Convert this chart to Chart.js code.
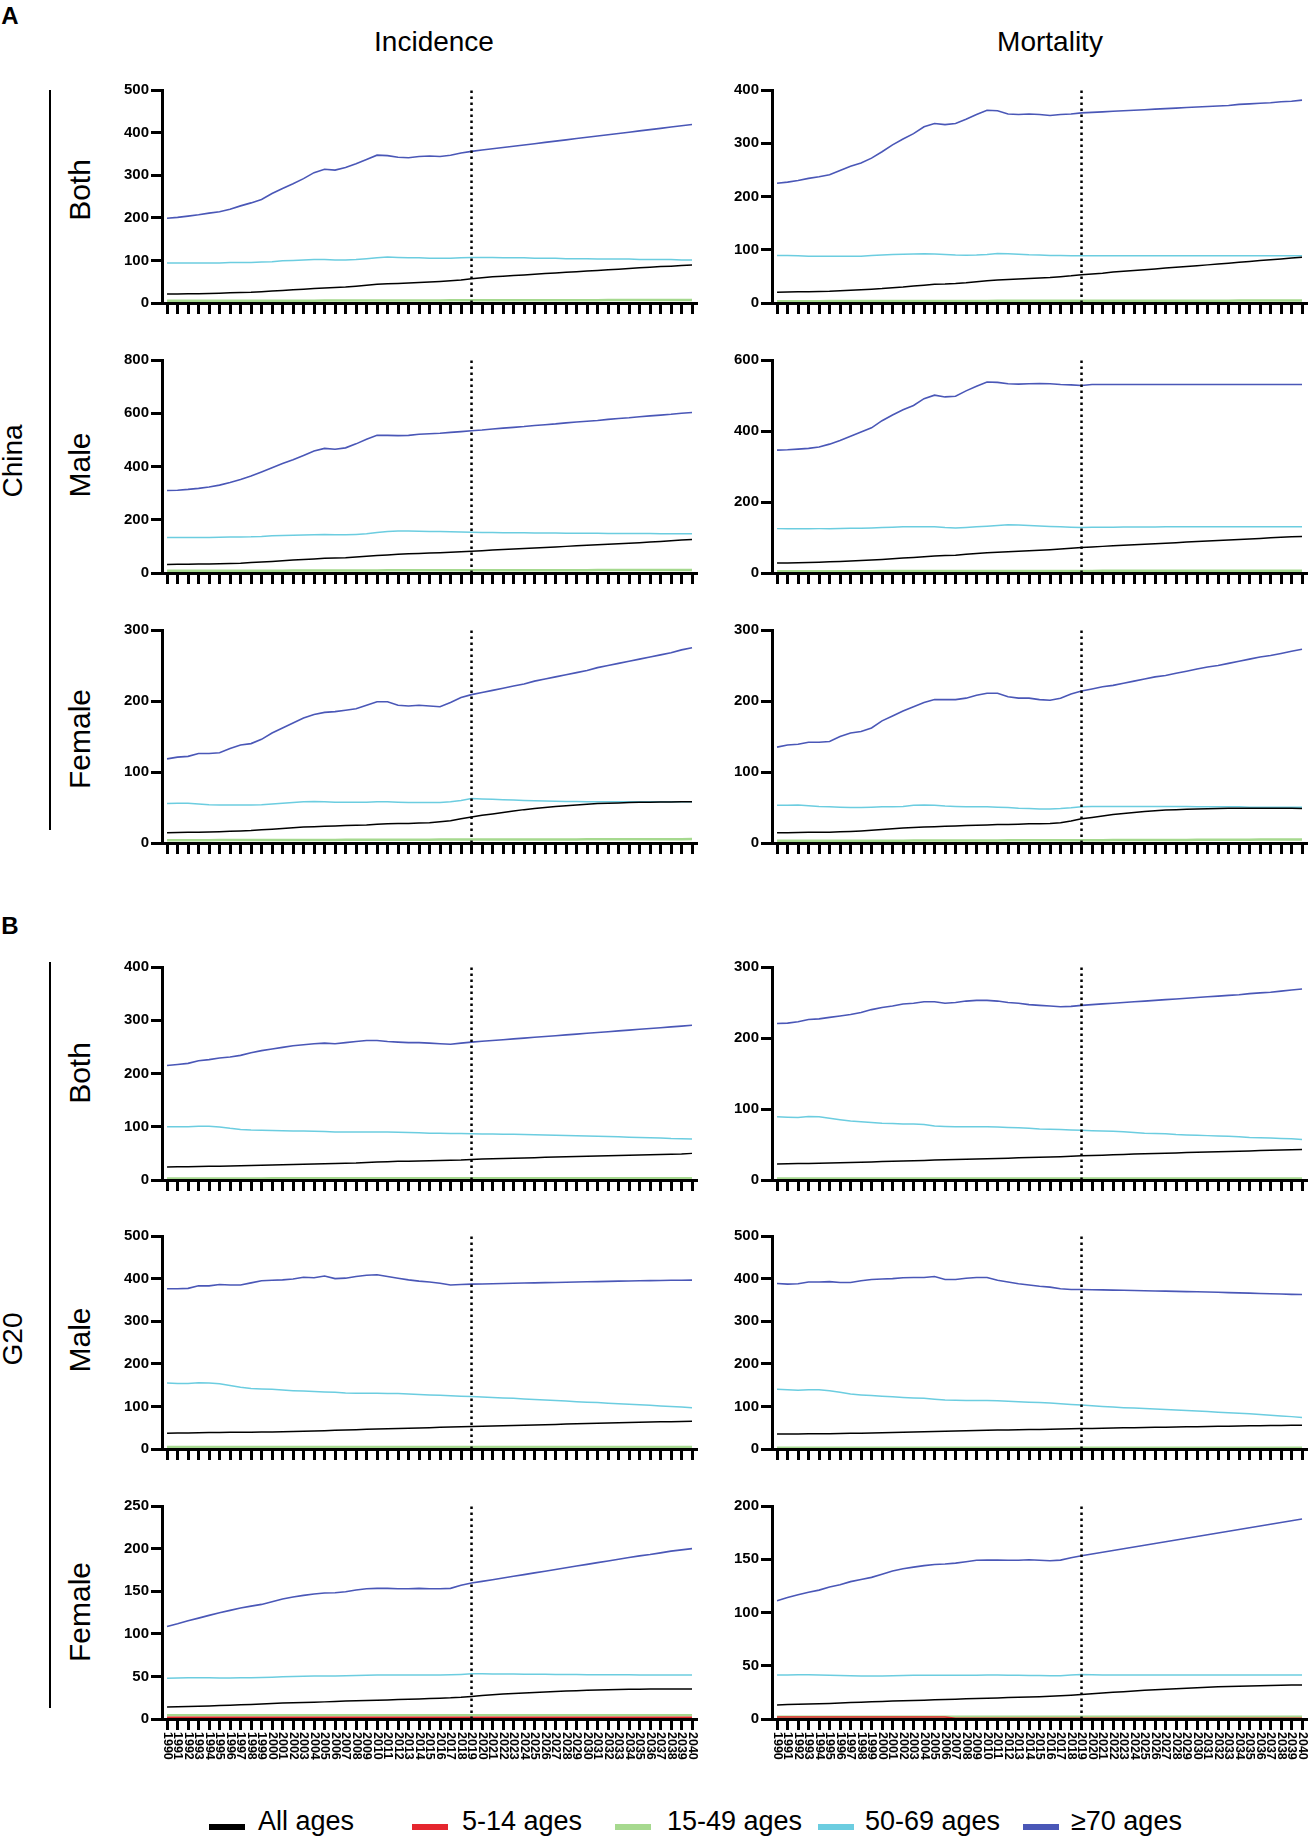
<!DOCTYPE html>
<html>
<head>
<meta charset="utf-8">
<script src="https://cdn.jsdelivr.net/npm/chart.js@4.4.1/dist/chart.umd.min.js"></script>
<style>
  body { margin: 0; background: #fff; }
  #fig { position: relative; width: 1310px; height: 1837px; overflow: hidden;
         font-family: 'Liberation Sans', Arial, sans-serif; color: #000; }
  .lbl { position: absolute; transform: translate(-50%, -50%); white-space: nowrap; line-height: 1; }
  .rot { transform: translate(-50%, -50%) rotate(-90deg); }
  .bold { font-weight: bold; }
  .vline { position: absolute; width: 2px; background: #000; }
  canvas { position: absolute; }
  .key { position: absolute; top: 1824px; width: 36px; height: 6px; }
  .ktxt { position: absolute; top: 1821px; transform: translateY(-50%); font-size: 27px; line-height: 1; white-space: nowrap; }
</style>
</head>
<body>
<div id="fig">
  <div class="lbl bold" style="left:10px;top:16px;font-size:24px">A</div>
  <div class="lbl" style="left:434px;top:42px;font-size:28px">Incidence</div>
  <div class="lbl" style="left:1050px;top:42px;font-size:28px">Mortality</div>
  <div class="vline" style="left:49px;top:90px;height:740px"></div>
  <div class="lbl rot" style="left:13px;top:461px;font-size:28px">China</div>
  <div class="lbl rot" style="left:80px;top:190px;font-size:30px">Both</div>
  <div class="lbl rot" style="left:80px;top:465px;font-size:30px">Male</div>
  <div class="lbl rot" style="left:80px;top:739px;font-size:30px">Female</div>

  <div class="lbl bold" style="left:10px;top:926px;font-size:24px">B</div>
  <div class="vline" style="left:49px;top:962px;height:746px"></div>
  <div class="lbl rot" style="left:13px;top:1339px;font-size:28px">G20</div>
  <div class="lbl rot" style="left:80px;top:1073px;font-size:30px">Both</div>
  <div class="lbl rot" style="left:80px;top:1340px;font-size:30px">Male</div>
  <div class="lbl rot" style="left:80px;top:1612px;font-size:30px">Female</div>

  <canvas id="p1"></canvas><canvas id="p2"></canvas>
  <canvas id="p3"></canvas><canvas id="p4"></canvas>
  <canvas id="p5"></canvas><canvas id="p6"></canvas>
  <canvas id="p7"></canvas><canvas id="p8"></canvas>
  <canvas id="p9"></canvas><canvas id="p10"></canvas>
  <canvas id="p11"></canvas><canvas id="p12"></canvas>

  <div id="legend"></div>
</div>

<script>
// 年份（x 轴刻度）
const years = [1990,1991,1992,1993,1994,1995,1996,1997,1998,1999,
  2000,2001,2002,2003,2004,2005,2006,2007,2008,2009,
  2010,2011,2012,2013,2014,2015,2016,2017,2018,2019,
  2020,2021,2022,2023,2024,2025,2026,2027,2028,2029,
  2030,2031,2032,2033,2034,2035,2036,2037,2038,2039,2040];
const projectionYear = 2019;

const seriesNames = ['All ages', '5-14 ages', '15-49 ages', '50-69 ages', '≥70 ages'];

// ---- China, incidence, both
const cnBothIncAll = [21,21,21.5,22,22.5,23,24,24.5,25,26.5, 28,29.5,31,32.5,34,35.5,36.5,37.5,39.5,41.5, 44,45,46,47,48,49.5,50.5,52,54,57, 59.5,61.5,63,64.5,66,67.5,69,70.5,72,73.5, 75,76.5,78,79.5,81,82.5,84,85.5,86.5,88,89];
const cnBothInc5to14 = [0.3,0.3,0.3,0.3,0.3,0.3,0.3,0.3,0.3,0.3, 0.3,0.3,0.3,0.3,0.3,0.3,0.3,0.3,0.3,0.3, 0.3,0.3,0.3,0.3,0.3,0.3,0.3,0.3,0.3,0.3, 0.3,0.3,0.3,0.3,0.3,0.3,0.3,0.3,0.3,0.3, 0.3,0.3,0.3,0.3,0.3,0.3,0.3,0.3,0.3,0.3,0.3];
const cnBothInc15to49 = [5,5,5,5,5,5.1,5.1,5.2,5.2,5.3, 5.3,5.4,5.4,5.5,5.5,5.6,5.6,5.7,5.7,5.8, 5.8,5.9,5.9,6,6,6.1,6.1,6.2,6.2,6.3, 6.3,6.4,6.4,6.5,6.5,6.5,6.6,6.6,6.6,6.7, 6.7,6.7,6.8,6.8,6.8,6.9,6.9,6.9,7,7,7];
const cnBothInc50to69 = [94,94,94,94,94,94,95,95,95,96, 97,99,100,101,102,102,101,101,102,104, 106,108,107,106,106,105,105,105,106,107, 107,107,106,106,106,105,105,105,104,104, 104,103,103,103,103,102,102,102,102,101,101];
const cnBothInc70plus = [199,201,204,207,211,214,220,228,235,243, 257,269,280,292,306,314,312,318,327,337, 347,346,342,341,344,345,344,347,352,356, 359,362,365,368,371,374,377,380,383,386, 389,392,395,398,401,404,407,410,413,416,419];

// ---- China, mortality, both
const cnBothMortAll = [20,20.5,21,21,21.5,22,23,24,25,26, 27,28.5,30,32,33.5,35,35.5,36.5,38,40, 42,43,44,45,46,47,48,49.5,51,53, 54.5,56,58,59.5,61,62.5,64,65.5,67,68.5, 70,71.6,73.2,74.8,76.4,78,79.6,81.2,82.8,84.4,86];
const cnBothMort5to14 = [0.3,0.3,0.3,0.3,0.3,0.3,0.3,0.3,0.3,0.3, 0.3,0.3,0.3,0.3,0.3,0.3,0.3,0.3,0.3,0.3, 0.3,0.3,0.3,0.3,0.3,0.3,0.3,0.3,0.3,0.3, 0.3,0.3,0.3,0.3,0.3,0.3,0.3,0.3,0.3,0.3, 0.3,0.3,0.3,0.3,0.3,0.3,0.3,0.3,0.3,0.3,0.3];
const cnBothMort15to49 = [3.5,3.5,3.5,3.5,3.5,3.6,3.6,3.6,3.6,3.7, 3.7,3.7,3.7,3.8,3.8,3.8,3.8,3.9,3.9,3.9, 3.9,4,4,4,4,4,4.1,4.1,4.1,4.1, 4.2,4.2,4.2,4.2,4.3,4.3,4.3,4.3,4.3,4.4, 4.4,4.4,4.4,4.4,4.5,4.5,4.5,4.5,4.5,4.5,4.5];
const cnBothMort50to69 = [89,89,88.5,88,88,88,88,88,88,89, 90,91,91.5,92,92.5,92,91,90,89.5,90, 91,93,92.5,91.5,90.5,90,89,89,88.5,88.5, 88.5,88.5,88.5,88.5,88.5,88.5,88.5,88.5,88.5,88.5, 88.5,88.5,88.5,88.5,88.5,88.5,88.5,88.5,88.5,88.5,88.5];
const cnBothMort70plus = [225,227,230,234,237,241,249,257,263,272, 284,297,308,318,331,337,335,337,345,354, 362,361,355,354,355,354,352,354,355,357, 358,359,360,361,362,363,364,365,366,367, 368,369,370,371,373,374,375,376,378,379,381];

// ---- China, incidence, male
const cnMaleIncAll = [32,32.5,33,33.5,34,35,36,37,39,41, 43.5,46,48.5,51,53,55,56,57.5,60,63, 66,68,70,72,73.5,75,76.5,78,80,82, 84,86,88,90,92,94,96,98,100,102, 104,106,108,110,112,114,116,118.5,121,123.5,126];
const cnMaleInc5to14 = [0.3,0.3,0.3,0.3,0.3,0.3,0.3,0.3,0.3,0.3, 0.3,0.3,0.3,0.3,0.3,0.3,0.3,0.3,0.3,0.3, 0.3,0.3,0.3,0.3,0.3,0.3,0.3,0.3,0.3,0.3, 0.3,0.3,0.3,0.3,0.3,0.3,0.3,0.3,0.3,0.3, 0.3,0.3,0.3,0.3,0.3,0.3,0.3,0.3,0.3,0.3,0.3];
const cnMaleInc15to49 = [8,8,8,8.1,8.2,8.3,8.4,8.5,8.6,8.7, 8.8,8.9,9,9.1,9.2,9.3,9.4,9.5,9.6,9.7, 9.8,9.9,10,10,10.1,10.1,10.2,10.2,10.3,10.3, 10.4,10.4,10.5,10.5,10.5,10.6,10.6,10.6,10.7,10.7, 10.7,10.8,10.8,10.8,10.9,10.9,10.9,11,11,11,11];
const cnMaleInc50to69 = [133,133,133,133,133.5,134,135,135.5,136,137.5, 140,141,142,143,144,145,144,143.5,145,147, 152,156,158,158,157,156,155.5,155,154,153, 152.5,152,151.5,151,151,150.5,150,150,149.5,149.5, 149,149,148.5,148.5,148,148,148,147.5,147.5,147,147];
const cnMaleInc70plus = [310,311,314,318,323,330,340,351,364,379, 395,411,425,441,458,468,465,470,485,502, 517,517,516,517,521,523,525,528,531,534, 537,541,544,547,550,554,557,560,564,567, 570,573,577,580,583,587,590,593,596,600,603];

// ---- China, mortality, male
const cnMaleMortAll = [28,28.5,29,29.5,30.5,31.5,32.5,33.5,35,36.5, 38,40,42,44,46,48,49,50,52.5,55, 57,58.5,60,61.5,63,64,65.5,67.5,70,72, 73.5,75,76.5,78,79.5,81,82.5,84,85.5,87, 88.5,90,91.5,93,94.5,96,97.5,99,100.5,102,103];
const cnMaleMort5to14 = [0.3,0.3,0.3,0.3,0.3,0.3,0.3,0.3,0.3,0.3, 0.3,0.3,0.3,0.3,0.3,0.3,0.3,0.3,0.3,0.3, 0.3,0.3,0.3,0.3,0.3,0.3,0.3,0.3,0.3,0.3, 0.3,0.3,0.3,0.3,0.3,0.3,0.3,0.3,0.3,0.3, 0.3,0.3,0.3,0.3,0.3,0.3,0.3,0.3,0.3,0.3,0.3];
const cnMaleMort15to49 = [5,5,5,5,5.1,5.1,5.1,5.2,5.2,5.2, 5.3,5.3,5.3,5.4,5.4,5.4,5.5,5.5,5.5,5.6, 5.6,5.6,5.7,5.7,5.7,5.8,5.8,5.8,5.9,5.9, 5.9,6,6,6,6,6.1,6.1,6.1,6.1,6.2, 6.2,6.2,6.2,6.3,6.3,6.3,6.3,6.4,6.4,6.4,6.5];
const cnMaleMort50to69 = [125,124.5,124.5,124.5,125,125,125.5,126,126,127, 128,129,130,130,130.5,130,128,127,128.5,130, 132,134,136,135,134,132.5,131,130,129,128, 129,129,129,129.5,129.5,129.5,129.5,130,130,130, 130,130,130,130.5,130.5,130.5,130.5,130.5,130.5,130.5,130.5];
const cnMaleMort70plus = [346,347,349,351,355,363,373,385,397,409, 429,445,460,472,491,501,496,498,513,526, 538,537,533,532,533,534,533,531,530,528, 531,531,531,531,531,531,531,531,531,531, 531,531,531,531,531,531,531,531,531,531,531];

// ---- China, incidence, female
const cnFemaleIncAll = [14.5,14.7,15,15.2,15.5,16,16.5,17,17.5,18.5, 19.5,20.5,21.5,22.5,23,23.5,24,24.5,25,25.5, 26.5,27,27.5,27.5,28,28.5,30,31.5,34,36.5, 39,41,43,45,47,48.5,50,51.5,52.5,53.5, 54.5,55.5,56,56.5,57,57.3,57.5,57.7,57.8,58,58];
const cnFemaleInc5to14 = [0.3,0.3,0.3,0.3,0.3,0.3,0.3,0.3,0.3,0.3, 0.3,0.3,0.3,0.3,0.3,0.3,0.3,0.3,0.3,0.3, 0.3,0.3,0.3,0.3,0.3,0.3,0.3,0.3,0.3,0.3, 0.3,0.3,0.3,0.3,0.3,0.3,0.3,0.3,0.3,0.3, 0.3,0.3,0.3,0.3,0.3,0.3,0.3,0.3,0.3,0.3,0.3];
const cnFemaleInc15to49 = [4,4,4,4,4,4.1,4.1,4.1,4.2,4.2, 4.2,4.3,4.3,4.3,4.4,4.4,4.4,4.5,4.5,4.5, 4.6,4.6,4.6,4.7,4.7,4.7,4.8,4.8,4.8,4.9, 4.9,4.9,5,5,5,5,5.1,5.1,5.1,5.1, 5.2,5.2,5.2,5.2,5.3,5.3,5.3,5.3,5.4,5.4,5.5];
const cnFemaleInc50to69 = [55.5,56,56,55,54,53.5,53.5,53.5,53.5,54, 55,56,57,58,58.5,58,57.5,57.5,57.5,57.5, 58,58,57.5,57,57,57,57,58,60,62.5, 62,61.5,61,60.5,60,59.5,59,58.7,58.5,58.3, 58,58,58,58,58,58,58,58,58,58,58];
const cnFemaleInc70plus = [118.5,121,122,126,126,127,133,138,140,146, 155,162,169,176,181,184,185,187,189,194, 199,199,194,193,194,193,192,198,205,209, 212,215,218,221,224,228,231,234,237,240, 243,247,250,253,256,259,262,265,268,272,275];

// ---- China, mortality, female
const cnFemaleMortAll = [14.5,14.5,14.7,15,15,15.3,15.7,16.2,17,18, 19,20,21,22,22.5,23,23.5,24,24.5,25, 25.5,26,26.2,26.5,27,27,27.5,28.5,31,34, 36,38,40,41.5,43,44.5,45.5,46.5,47,47.5, 48,48.3,48.6,48.8,49,49,49,49,49,49,48.5];
const cnFemaleMort5to14 = [0.3,0.3,0.3,0.3,0.3,0.3,0.3,0.3,0.3,0.3, 0.3,0.3,0.3,0.3,0.3,0.3,0.3,0.3,0.3,0.3, 0.3,0.3,0.3,0.3,0.3,0.3,0.3,0.3,0.3,0.3, 0.3,0.3,0.3,0.3,0.3,0.3,0.3,0.3,0.3,0.3, 0.3,0.3,0.3,0.3,0.3,0.3,0.3,0.3,0.3,0.3,0.3];
const cnFemaleMort15to49 = [3,3,3,3,3.1,3.1,3.1,3.2,3.2,3.2, 3.3,3.3,3.3,3.4,3.4,3.4,3.5,3.5,3.5,3.6, 3.6,3.6,3.7,3.7,3.7,3.8,3.8,3.8,3.9,3.9, 4,4,4.1,4.1,4.2,4.2,4.3,4.3,4.4,4.4, 4.5,4.5,4.6,4.6,4.7,4.7,4.8,4.8,4.9,4.9,5];
const cnFemaleMort50to69 = [53,53,53.5,52.5,51.5,51,50.5,50,50,50.5, 51,51,51.5,53,53.5,53,52,51.5,51,51, 51,50.5,50,49,48.5,48,48,48.5,49.5,51, 51.5,51.5,51.5,51.5,51.5,51.5,51.5,51.5,51.5,51.5, 51,51,51,51,51,50.5,50.5,50.5,50.5,50.5,50.5];
const cnFemaleMort70plus = [135,138,139,142,142,143,150,155,157,162, 172,179,186,192,198,202,202,202,204,208, 211,211,206,204,204,202,201,204,210,214, 217,220,222,225,228,231,234,236,239,242, 245,248,250,253,256,259,262,264,267,270,273];

// ---- G20, incidence, both
const g20BothIncAll = [24.5,24.8,25,25.3,25.6,26,26.3,26.6,27,27.5, 28,28.5,29,29.5,30,30.5,31,31.5,32,33, 34,34.5,35,35.3,35.6,36,36.5,37,37.5,38.5, 39.5,40,40.5,41,41.5,42,42.5,43,43.5,44, 44.5,45,45.5,46,46.5,47,47.5,48,48.5,49,50];
const g20BothInc5to14 = [0.4,0.4,0.4,0.4,0.4,0.4,0.4,0.4,0.4,0.4, 0.4,0.4,0.4,0.4,0.4,0.4,0.4,0.4,0.4,0.4, 0.4,0.4,0.4,0.4,0.4,0.4,0.4,0.4,0.4,0.4, 0.4,0.4,0.4,0.4,0.4,0.4,0.4,0.4,0.4,0.4, 0.4,0.4,0.4,0.4,0.4,0.4,0.4,0.4,0.4,0.4,0.4];
const g20BothInc15to49 = [3,3,3,3,3,3,3,3,3,3, 3.1,3.1,3.1,3.1,3.1,3.1,3.1,3.1,3.1,3.1, 3.1,3.1,3.1,3.1,3.1,3.1,3.1,3.1,3.1,3.1, 3.2,3.2,3.2,3.2,3.2,3.2,3.2,3.2,3.2,3.2, 3.2,3.2,3.2,3.2,3.2,3.2,3.2,3.2,3.2,3.2,3.2];
const g20BothInc50to69 = [100,100,100,101,101,99.5,97,95,94,93.5, 93,92.5,92,92,91.5,91,90,90,90,90, 90,90,89.5,89,88.5,88,88,87.5,87.5,87, 86.5,86.5,86,86,85.5,85,84.5,84,83.5,83, 82.5,82,81.5,81,80.5,80,79.5,79,78,77.5,77];
const g20BothInc70plus = [215,217,219,224,226,229,231,234,239,243, 246,249,252,254,256,257,256,258,260,262, 262,260,259,258,258,257,256,255,257,259, 260.5,262,263.5,265,266.5,268,269.5,271,272.5,274, 275.5,277,278.5,280,281.5,283,284.5,286,287.5,289,290.5];

// ---- G20, mortality, both
const g20BothMortAll = [22.7,23,23.2,23.4,23.6,24,24.3,24.7,25,25.5, 26,26.4,26.8,27.2,27.6,28,28.4,28.8,29.2,29.6, 30,30.4,30.8,31.2,31.6,32,32.4,32.8,33.3,34, 34.5,35,35.5,36,36.5,37,37.4,37.8,38.2,38.6, 39,39.4,39.8,40.2,40.6,41,41.4,41.8,42.2,42.6,43];
const g20BothMort5to14 = [0.4,0.4,0.4,0.4,0.4,0.4,0.4,0.4,0.4,0.4, 0.4,0.4,0.4,0.4,0.4,0.4,0.4,0.4,0.4,0.4, 0.4,0.4,0.4,0.4,0.4,0.4,0.4,0.4,0.4,0.4, 0.4,0.4,0.4,0.4,0.4,0.4,0.4,0.4,0.4,0.4, 0.4,0.4,0.4,0.4,0.4,0.4,0.4,0.4,0.4,0.4,0.4];
const g20BothMort15to49 = [2.2,2.2,2.2,2.2,2.2,2.2,2.2,2.2,2.2,2.2, 2.2,2.2,2.2,2.2,2.2,2.2,2.2,2.2,2.2,2.2, 2.2,2.2,2.2,2.2,2.2,2.2,2.2,2.2,2.2,2.2, 2.2,2.2,2.2,2.2,2.2,2.2,2.2,2.2,2.2,2.2, 2.2,2.2,2.2,2.2,2.2,2.2,2.2,2.2,2.2,2.2,2.2];
const g20BothMort50to69 = [89,88.5,88,89.5,89,87,85,83,82,81, 80,79.5,79,79,78,76,75.5,75,75,75, 75,74.5,74,73.5,73,72,71.5,71,70.5,70, 69.5,69,68.5,68,67,66,65.5,65,64,63.5, 63,62.5,62,61.5,61,60,59.5,59,58.5,58,57];
const g20BothMort70plus = [220.5,221,223,226,227,229,231,233,236,240, 243,245,248,249,251,251,249,250,252,253, 253,252,250,249,247,246,245,244,244.5,246, 247,248,249,250,251,252,253,254,255,256, 257,258,259,260,261,262.5,263.5,264.5,266,267.5,269];

// ---- G20, incidence, male
const g20MaleIncAll = [37,37.4,37.8,38.2,38.6,39,39.2,39.4,39.6,39.8, 40,40.6,41.2,41.8,42.4,43,43.8,44.6,45.4,46.2, 47,47.6,48.2,48.8,49.4,50,50.8,51.6,52.3,53, 53.6,54.2,54.8,55.4,56,56.6,57.2,57.8,58.4,59, 59.6,60.2,60.8,61.4,62,62.6,63.2,63.8,64.2,64.6,65];
const g20MaleInc5to14 = [0.4,0.4,0.4,0.4,0.4,0.4,0.4,0.4,0.4,0.4, 0.4,0.4,0.4,0.4,0.4,0.4,0.4,0.4,0.4,0.4, 0.4,0.4,0.4,0.4,0.4,0.4,0.4,0.4,0.4,0.4, 0.4,0.4,0.4,0.4,0.4,0.4,0.4,0.4,0.4,0.4, 0.4,0.4,0.4,0.4,0.4,0.4,0.4,0.4,0.4,0.4,0.4];
const g20MaleInc15to49 = [4.5,4.5,4.5,4.5,4.5,4.5,4.5,4.5,4.5,4.5, 4.5,4.5,4.5,4.5,4.5,4.5,4.5,4.5,4.5,4.5, 4.5,4.5,4.5,4.5,4.5,4.5,4.5,4.5,4.5,4.5, 4.5,4.5,4.5,4.5,4.5,4.5,4.5,4.5,4.5,4.5, 4.5,4.5,4.5,4.5,4.5,4.5,4.5,4.5,4.5,4.5,4.5];
const g20MaleInc50to69 = [155,154,154,155.5,155,153,149,145,142,141, 140,138.5,137,136,135,134,133,131.5,131,131, 131,130.5,130,129,128,127,126,125,124,123, 122,121,120,119,117.5,116,115,114,112.5,111, 110,109,107.5,106,105,104,102.5,101,100,98.5,97];
const g20MaleInc70plus = [376,376,377,383,383,386,385,385,390,395, 396,397,399,403,402,406,400,401,405,408, 409,405,401,397,394,392,389,385,386,387, 387.5,388,388.5,389,389.5,390,390.5,391,391.5,392, 392.5,393,393.5,394,394.5,395,395.3,395.6,396,396.3,396.5];

// ---- G20, mortality, male
const g20MaleMortAll = [35,35.2,35.4,35.6,35.8,36,36.4,36.8,37.2,37.6, 38,38.6,39.2,39.8,40.4,41,41.6,42.2,42.8,43.4, 44,44.4,44.8,45.2,45.6,46,46.4,46.8,47.4,48, 48.4,48.8,49.2,49.6,50,50.4,50.8,51.2,51.6,52, 52.4,52.8,53.2,53.6,54,54.4,54.8,55.1,55.4,55.7,56];
const g20MaleMort5to14 = [0.4,0.4,0.4,0.4,0.4,0.4,0.4,0.4,0.4,0.4, 0.4,0.4,0.4,0.4,0.4,0.4,0.4,0.4,0.4,0.4, 0.4,0.4,0.4,0.4,0.4,0.4,0.4,0.4,0.4,0.4, 0.4,0.4,0.4,0.4,0.4,0.4,0.4,0.4,0.4,0.4, 0.4,0.4,0.4,0.4,0.4,0.4,0.4,0.4,0.4,0.4,0.4];
const g20MaleMort15to49 = [3,3,3,3,3,3,3,3,3,3, 3,3,3,3,3,3,3,3,3,3, 3,3,3,3,3,3,3,3,3,3, 3,3,3,3,3,3,3,3,3,3, 3,3,3,3,3,3,3,3,3,3,3];
const g20MaleMort50to69 = [140,139,138,139,139,137,133,129,127,125.5, 124,122.5,121,120,119,117,115,114.5,114,114, 114,113,112,111,110,109,108,106.5,104.5,103, 101.5,100,98.5,97,96,95,94,93,91.5,90.5, 89,88,86.5,85,84,83,81,79,77.5,76,74];
const g20MaleMort70plus = [388.5,387,388,392,392,393,391,391,395,398, 399,400,402,402.5,402.5,405,398,398,401,402.5, 402.5,396,392,388,385,382,380,376,374.5,374.5, 374,373.5,373,372.5,372,371.5,371,370.5,370,369.5, 369,368.5,368,367,366.5,366,365,364.5,364,363,362.5];

// ---- G20, incidence, female
const g20FemaleIncAll = [14,14.3,14.6,15,15.4,15.8,16.2,16.6,17,17.6, 18.3,18.8,19.2,19.5,19.8,20.1,20.5,21,21.4,21.7, 22,22.4,22.8,23.2,23.6,24,24.4,24.8,25.5,26.5, 27.5,28.4,29.2,30,30.6,31.2,31.8,32.3,32.8,33.2, 33.6,34,34.3,34.6,34.8,35,35.1,35.2,35.2,35.3,35.3];
const g20FemaleInc5to14 = [2,2,2,2,2,2,2,2,2,2, 2,2,2,2,2,2,2,2,2,2, 2,2,2,2,2,2,2,2,2,2, 2,2,2,2,2,2,2,2,2,2, 2,2,2,2,2,2,2,2,2,2,2];
const g20FemaleInc15to49 = [4.3,4.3,4.3,4.3,4.3,4.3,4.3,4.3,4.3,4.3, 4.3,4.3,4.3,4.3,4.3,4.3,4.3,4.3,4.3,4.3, 4.3,4.3,4.3,4.3,4.3,4.3,4.3,4.3,4.3,4.3, 4.3,4.3,4.3,4.3,4.3,4.3,4.3,4.3,4.3,4.3, 4.3,4.3,4.3,4.3,4.3,4.3,4.3,4.3,4.3,4.3,4.3];
const g20FemaleInc50to69 = [47.8,48,48.3,48.5,48.3,48,48,48.3,48.5,48.7, 49,49.5,50,50.3,50.5,50.5,50.5,50.8,51,51.3, 51.5,51.5,51.5,51.5,51.5,51.5,51.5,51.8,52.3,53, 53,52.8,52.8,52.7,52.6,52.5,52.4,52.3,52.2,52.1, 52,52,51.9,51.8,51.8,51.7,51.7,51.6,51.6,51.5,51.5];
const g20FemaleInc70plus = [108.6,111.8,115.3,118.4,121.6,124.7,127.5,130.2,132.5,134.5, 137.6,140.8,143.1,145.1,146.7,147.8,148.2,149.4,151.4,152.9, 153.3,153.3,152.9,152.9,153.3,152.9,152.9,153.3,156.9,159.6, 161.5,163.5,165.5,167.5,169.5,171.5,173.5,175.5,177.5,179.5, 181.5,183.5,185.5,187.5,189.5,191.5,193,195,197,198.5,200];

// ---- G20, mortality, female
const g20FemaleMortAll = [13.2,13.5,13.8,14.1,14.4,14.6,15,15.4,15.8,16.2, 16.5,16.8,17.1,17.4,17.7,18,18.3,18.6,18.9,19.2, 19.5,19.8,20.1,20.4,20.7,21,21.4,21.8,22.3,23, 23.7,24.4,25.1,25.7,26.3,26.9,27.4,27.9,28.4,28.9, 29.4,29.8,30.2,30.5,30.8,31,31.3,31.5,31.7,31.9,32];
const g20FemaleMort5to14 = [1.8,1.8,1.8,1.8,1.8,1.8,1.8,1.8,1.8,1.8, 1.8,1.8,1.8,1.8,1.8,1.8,1.8,0.8,0.8,0.8, 0.8,0.8,0.8,0.8,0.8,0.8,0.8,0.8,0.8,0.8, 0.8,0.8,0.8,0.8,0.8,0.8,0.8,0.8,0.8,0.8, 0.8,0.8,0.8,0.8,0.8,0.8,0.8,0.8,0.8,0.8,0.8];
const g20FemaleMort15to49 = [2.2,2.2,2.2,2.2,2.2,2.2,2.2,2.2,2.2,2.2, 2.2,2.2,2.2,2.2,2.2,2.2,2.2,2.2,2.2,2.2, 2.2,2.2,2.2,2.2,2.2,2.2,2.2,2.2,2.2,2.2, 2.2,2.2,2.2,2.2,2.2,2.2,2.2,2.2,2.2,2.2, 2.2,2.2,2.2,2.2,2.2,2.2,2.2,2.2,2.2,2.2,2.2];
const g20FemaleMort50to69 = [41.4,41.4,41.5,41.5,41.3,41,40.8,40.5,40.4,40.3, 40.4,40.6,40.8,41,41,41,41,41,41,41.1, 41.3,41.2,41,41,40.9,40.8,40.7,40.7,41.2,41.8, 41.5,41.4,41.3,41.3,41.3,41.3,41.3,41.3,41.3,41.3, 41.3,41.3,41.3,41.3,41.3,41.3,41.3,41.3,41.3,41.3,41.3];
const g20FemaleMort70plus = [111,114,116.6,119,121,124,126,129,131,133, 136,139,141,142.6,144,145,145.5,146.4,147.6,149, 149.2,149.2,149,149,149.5,149,148.6,149.2,151.4,153.3, 155,156.6,158.2,159.9,161.5,163.2,164.8,166.5,168.1,169.7, 171.4,173,174.7,176.3,178,179.6,181.2,182.9,184.5,186.2,187.8];

// 样式
const seriesColors = ['#000000', '#e5262e', '#a6d98f', '#6ccde0', '#4a57b7'];
const seriesWidths = [1.5, 1.5, 2.5, 1.5, 1.6];
const fontFamily = "'Liberation Sans', Arial, sans-serif";

// 面板：y 轴最大值、步长、位置
const panels = [
  { id: 'p1',  col: 0, top: 78,   yMax: 500, yStep: 100, series: [cnBothIncAll, cnBothInc5to14, cnBothInc15to49, cnBothInc50to69, cnBothInc70plus] },
  { id: 'p2',  col: 1, top: 78,   yMax: 400, yStep: 100, series: [cnBothMortAll, cnBothMort5to14, cnBothMort15to49, cnBothMort50to69, cnBothMort70plus] },
  { id: 'p3',  col: 0, top: 348,  yMax: 800, yStep: 200, series: [cnMaleIncAll, cnMaleInc5to14, cnMaleInc15to49, cnMaleInc50to69, cnMaleInc70plus] },
  { id: 'p4',  col: 1, top: 348,  yMax: 600, yStep: 200, series: [cnMaleMortAll, cnMaleMort5to14, cnMaleMort15to49, cnMaleMort50to69, cnMaleMort70plus] },
  { id: 'p5',  col: 0, top: 618,  yMax: 300, yStep: 100, series: [cnFemaleIncAll, cnFemaleInc5to14, cnFemaleInc15to49, cnFemaleInc50to69, cnFemaleInc70plus] },
  { id: 'p6',  col: 1, top: 618,  yMax: 300, yStep: 100, series: [cnFemaleMortAll, cnFemaleMort5to14, cnFemaleMort15to49, cnFemaleMort50to69, cnFemaleMort70plus] },
  { id: 'p7',  col: 0, top: 955,  yMax: 400, yStep: 100, series: [g20BothIncAll, g20BothInc5to14, g20BothInc15to49, g20BothInc50to69, g20BothInc70plus] },
  { id: 'p8',  col: 1, top: 955,  yMax: 300, yStep: 100, series: [g20BothMortAll, g20BothMort5to14, g20BothMort15to49, g20BothMort50to69, g20BothMort70plus] },
  { id: 'p9',  col: 0, top: 1224, yMax: 500, yStep: 100, series: [g20MaleIncAll, g20MaleInc5to14, g20MaleInc15to49, g20MaleInc50to69, g20MaleInc70plus] },
  { id: 'p10', col: 1, top: 1224, yMax: 500, yStep: 100, series: [g20MaleMortAll, g20MaleMort5to14, g20MaleMort15to49, g20MaleMort50to69, g20MaleMort70plus] },
  { id: 'p11', col: 0, top: 1494, yMax: 250, yStep: 50,  series: [g20FemaleIncAll, g20FemaleInc5to14, g20FemaleInc15to49, g20FemaleInc50to69, g20FemaleInc70plus], showYears: true },
  { id: 'p12', col: 1, top: 1494, yMax: 200, yStep: 50,  series: [g20FemaleMortAll, g20FemaleMort5to14, g20FemaleMort15to49, g20FemaleMort50to69, g20FemaleMort70plus], showYears: true }
];

const colLeft = [97, 707];
const canvasWidth = 604;
const yAxisWidth = 65;
const xMin = 1989.52, xMax = 2040.38;

// 竖排年份标签（从上往下读）
const yearLabels = {
  id: 'yearLabels',
  afterDraw(chart, args, opts) {
    if (!opts.show) return;
    const xs = chart.scales.x;
    const ctx = chart.ctx;
    ctx.save();
    ctx.font = 'bold 12.5px ' + fontFamily;
    ctx.fillStyle = '#000';
    ctx.textAlign = 'left';
    ctx.textBaseline = 'middle';
    years.forEach(yr => {
      ctx.save();
      ctx.translate(xs.getPixelForValue(yr), chart.chartArea.bottom + 13);
      ctx.rotate(Math.PI / 2);
      ctx.fillText(String(yr), 0, 0);
      ctx.restore();
    });
    ctx.restore();
  }
};

function buildPanel(p) {
  const cv = document.getElementById(p.id);
  const h = p.showYears ? 277 : 239;
  cv.width = canvasWidth;
  cv.height = h;
  cv.style.left = colLeft[p.col] + 'px';
  cv.style.top = p.top + 'px';
  cv.style.width = canvasWidth + 'px';
  cv.style.height = h + 'px';

  // 预测起始年份的虚线
  const datasets = [{
    label: 'projection',
    data: [{ x: projectionYear, y: 0 }, { x: projectionYear, y: p.yMax }],
    borderColor: '#000',
    borderWidth: 2.5,
    borderDash: [2.5, 3.5],
    pointRadius: 0
  }];
  p.series.forEach((vals, k) => {
    datasets.push({
      label: seriesNames[k],
      data: vals,
      borderColor: seriesColors[k],
      borderWidth: seriesWidths[k],
      pointRadius: 0,
      tension: 0
    });
  });

  new Chart(cv, {
    type: 'line',
    data: { labels: years, datasets: datasets },
    options: {
      responsive: false,
      animation: false,
      events: [],
      layout: { padding: { top: 12, right: 5, bottom: 0, left: 0 } },
      plugins: {
        legend: { display: false },
        tooltip: { enabled: false },
        yearLabels: { show: !!p.showYears }
      },
      scales: {
        x: {
          type: 'linear',
          min: xMin,
          max: xMax,
          afterBuildTicks: s => { s.ticks = years.map(v => ({ value: v })); },
          afterFit: s => { s.height = p.showYears ? 52 : 14; },
          ticks: { display: false },
          grid: { drawOnChartArea: false, drawTicks: true, tickLength: 11, tickWidth: 3, tickColor: '#000', lineWidth: 3, color: '#000' },
          border: { display: true, color: '#000', width: 3, z: 1 }
        },
        y: {
          min: 0,
          max: p.yMax,
          afterFit: s => { s.width = yAxisWidth; },
          ticks: { stepSize: p.yStep, color: '#000', padding: 2, font: { family: fontFamily, size: 15, weight: 'bold' } },
          grid: { drawOnChartArea: false, drawTicks: true, tickLength: 11, tickWidth: 3, tickColor: '#000', lineWidth: 3, color: '#000' },
          border: { display: true, color: '#000', width: 3 }
        }
      }
    },
    plugins: [yearLabels]
  });
}

panels.forEach(buildPanel);

// 图例
const legendKeyX = [209, 412, 615, 818, 1023];
const legendTextX = [258, 462, 667, 865, 1071];
const legend = document.getElementById('legend');
seriesNames.forEach((name, k) => {
  const key = document.createElement('div');
  key.className = 'key';
  key.style.left = legendKeyX[k] + 'px';
  key.style.background = seriesColors[k];
  legend.appendChild(key);
  const txt = document.createElement('div');
  txt.className = 'ktxt';
  txt.style.left = legendTextX[k] + 'px';
  txt.textContent = name;
  legend.appendChild(txt);
});
</script>
</body>
</html>
